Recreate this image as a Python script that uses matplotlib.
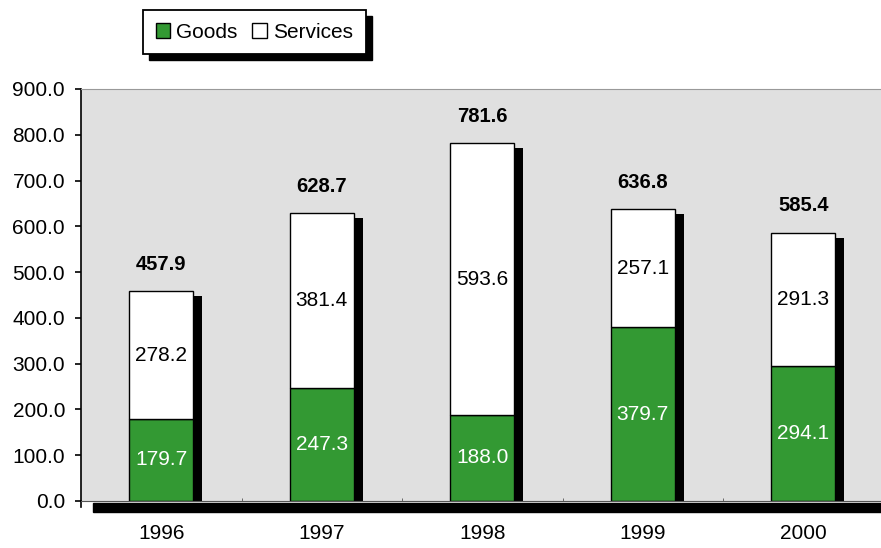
import numpy as np
import matplotlib.pyplot as plt
from matplotlib.patches import Rectangle
from matplotlib.lines import Line2D

plt.rcParams["font.family"] = ["Liberation Sans", "DejaVu Sans"]
plt.rcParams["font.size"] = 15

years = ["1996", "1997", "1998", "1999", "2000"]
goods = [179.7, 247.3, 188.0, 379.7, 294.1]
services = [278.2, 381.4, 593.6, 257.1, 291.3]
totals = [457.9, 628.7, 781.6, 636.8, 585.4]

GREEN = "#339933"
BG = "#e0e0e0"

fig = plt.figure(figsize=(8.81, 5.48), dpi=100)
ax = fig.add_axes([81 / 881, 47 / 548, 802.5 / 881, 412 / 548])
ax.set_facecolor(BG)

x = np.arange(len(years))
width = 0.40
goods = np.array(goods)
services = np.array(services)

# drop shadows behind the bars
dx = 9 / 160.5
dy = 4.5 * 900 / 412
ax.bar(x + dx, goods + services - dy, width=width, color="black", zorder=1)

ax.bar(x, goods, width=width, color=GREEN, edgecolor="black", linewidth=1,
       label="Goods", zorder=2)
ax.bar(x, services, width=width, bottom=goods, color="white", edgecolor="black",
       linewidth=1, label="Services", zorder=2)

for i in range(len(years)):
    ax.text(x[i], goods[i] / 2, f"{goods[i]:.1f}", ha="center", va="center",
            color="white", fontsize=15, zorder=3)
    ax.text(x[i], goods[i] + services[i] / 2, f"{services[i]:.1f}", ha="center",
            va="center", color="black", fontsize=15, zorder=3)
    ax.annotate(f"{totals[i]:.1f}", (x[i], totals[i]), xytext=(0, 19.5),
                textcoords="offset points", ha="center", va="center",
                fontweight="bold", fontsize=14.5, zorder=3)

ax.set_xlim(-0.5, 4.5)
ax.set_ylim(0, 900)
ax.set_yticks(np.arange(0, 901, 100))
ax.set_yticklabels([f"{v:.1f}" for v in np.arange(0, 901, 100)])
ax.set_xticks(x)
ax.set_xticklabels(years)
ax.set_xticks(np.arange(0.5, 4.5, 1), minor=True)
ax.tick_params(axis="x", which="major", length=0, pad=16.5)
ax.tick_params(axis="x", which="minor", direction="in", length=2.5, color="#555555")
ax.tick_params(axis="y", length=4.5, width=1.2, pad=7, color="black")

ax.spines["left"].set_color("black")
ax.spines["left"].set_linewidth(1.2)
ax.spines["bottom"].set_color("#555555")
ax.spines["top"].set_color("#999999")
ax.spines["right"].set_visible(False)

# little extension of the y axis below zero
ax.add_line(Line2D([0, 0], [0, -0.015], transform=ax.transAxes, color="black",
                   linewidth=1.2, clip_on=False))
# shadow under the x axis
fig.patches.append(Rectangle((93 / 881, (548 - 512) / 548), 1, 9 / 548,
                             transform=fig.transFigure, color="black", zorder=0))

leg = fig.legend(loc="upper left", bbox_to_anchor=(143 / 881, 1 - 10 / 548),
                 ncol=2, frameon=True, fancybox=False, borderaxespad=0,
                 fontsize=15, handlelength=0.7, handleheight=0.7,
                 handletextpad=0.3, columnspacing=0.7, borderpad=0.6)
leg.get_frame().set_edgecolor("black")
leg.get_frame().set_linewidth(1.3)
leg.get_frame().set_alpha(1)

fig.canvas.draw()
bb = leg.get_window_extent().transformed(fig.transFigure.inverted())
fig.patches.append(Rectangle((bb.x0 + 6 / 881, bb.y0 - 6 / 548), bb.width, bb.height,
                             transform=fig.transFigure, color="black", zorder=0))
leg.set_zorder(5)

fig.savefig("out.png", dpi=100)
